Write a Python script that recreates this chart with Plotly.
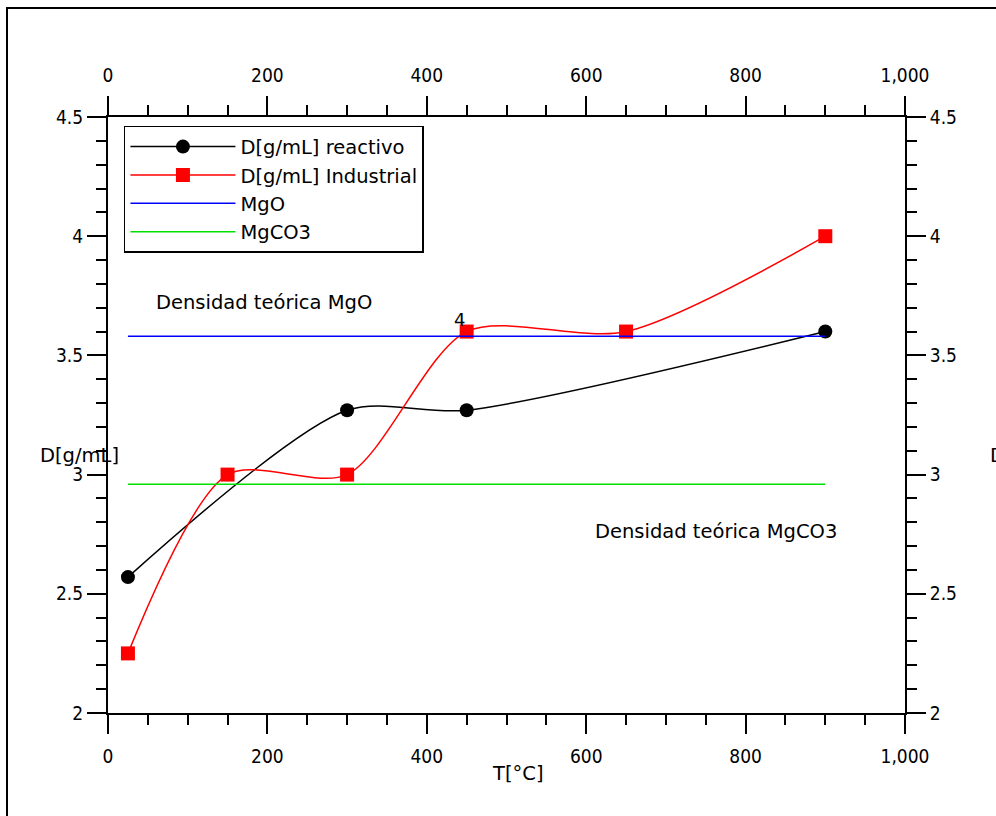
import plotly.graph_objects as go

# Data
t_reactivo = [25, 300, 450, 900]
d_reactivo = [2.57, 3.27, 3.27, 3.60]
t_industrial = [25, 150, 300, 450, 650, 900]
d_industrial = [2.25, 3.00, 3.00, 3.60, 3.60, 4.00]
t_ref = [25, 900]
d_mgo = [3.58, 3.58]
d_mgco3 = [2.96, 2.96]

xticks = [0, 200, 400, 600, 800, 1000]
xticklabels = ["0", "200", "400", "600", "800", "1,000"]
yticks = [2, 2.5, 3, 3.5, 4, 4.5]
yticklabels = ["2", "2.5", "3", "3.5", "4", "4.5"]

tick_font = dict(family="Liberation Sans Narrow, DejaVu Sans Condensed, sans-serif", size=19, color="black")
txt_font = dict(family="DejaVu Sans, Verdana, sans-serif", size=19.5, color="black")

fig = go.Figure()
fig.add_trace(go.Scatter(x=t_reactivo, y=d_reactivo, mode="lines+markers", name="D[g/mL] reactivo",
                         line=dict(color="black", width=1.5, shape="spline", smoothing=0.8),
                         marker=dict(symbol="circle", size=14, color="black")))
fig.add_trace(go.Scatter(x=t_industrial, y=d_industrial, mode="lines+markers", name="D[g/mL] Industrial",
                         line=dict(color="red", width=1.5, shape="spline", smoothing=0.8),
                         marker=dict(symbol="square", size=14, color="red")))
fig.add_trace(go.Scatter(x=t_ref, y=d_mgo, mode="lines", name="MgO", line=dict(color="blue", width=1.5)))
fig.add_trace(go.Scatter(x=t_ref, y=d_mgco3, mode="lines", name="MgCO3", line=dict(color="#00e000", width=1.5)))
# invisible traces for the secondary (top/right) axes
fig.add_trace(go.Scatter(x=t_ref, y=d_mgo, xaxis="x2", yaxis="y2", mode="lines",
                         line=dict(width=0), opacity=0, showlegend=False, hoverinfo="skip"))

common_x = dict(range=[0, 1000], tickvals=xticks, ticktext=xticklabels, showgrid=False, zeroline=False,
                showline=True, linecolor="black", linewidth=2, ticks="outside", ticklen=19, tickwidth=1.5,
                tickcolor="black", tickfont=tick_font, ticklabelstandoff=6,
                minor=dict(ticks="outside", dtick=50, ticklen=10, tickwidth=1.5, tickcolor="black"))
common_y = dict(range=[2, 4.5], tickvals=yticks, ticktext=yticklabels, showgrid=False, zeroline=False,
                showline=True, linecolor="black", linewidth=2, ticks="outside", ticklen=19, tickwidth=1.5,
                tickcolor="black", tickfont=tick_font,
                minor=dict(ticks="outside", dtick=0.1, ticklen=10, tickwidth=1.5, tickcolor="black"))

fig.update_layout(
    width=996, height=816,
    margin=dict(l=108, r=91, t=117, b=103),
    paper_bgcolor="white", plot_bgcolor="white",
    xaxis=dict(**common_x, side="bottom"),
    xaxis2=dict(**common_x, side="top", overlaying="x", anchor="y"),
    yaxis=dict(**common_y, side="left"),
    yaxis2=dict(**common_y, side="right", overlaying="y", anchor="x"),
    showlegend=True,
    legend=dict(x=0.02, y=0.985, xanchor="left", yanchor="top", bgcolor="white",
                bordercolor="black", borderwidth=1.5, font=txt_font, itemwidth=105,
                tracegroupgap=0),
    annotations=[
        dict(text="Densidad teórica MgO", x=58, y=3.72, xref="x", yref="y", showarrow=False,
             xanchor="left", font=txt_font),
        dict(text="Densidad teórica MgCO3", x=608, y=2.76, xref="x", yref="y", showarrow=False,
             xanchor="left", font=txt_font),
        dict(text="4", x=450, y=3.6, xref="x", yref="y", showarrow=False, xanchor="right",
             yanchor="bottom", font=dict(family="DejaVu Sans", size=18, color="black")),
        dict(text="D[g/mL]", x=38, y=455, xref="paper", yref="paper", showarrow=False, xanchor="left",
             font=txt_font),
        dict(text="D[g/mL]", x=988, y=455, xref="paper", yref="paper", showarrow=False, xanchor="left",
             font=txt_font),
        dict(text="T[°C]", x=518, y=787, xref="paper", yref="paper", showarrow=False, xanchor="center",
             font=txt_font),
    ],
    shapes=[dict(type="rect", xref="paper", yref="paper", x0=-0.1, x1=1.2, y0=-0.3, y1=1.2,
                 line=dict(color="black", width=2))],
)

# convert pixel-placed annotations to paper coords
W, H = 996, 816
pl, pr, pt, pb = 108, 91, 117, 103
pw, ph = W - pl - pr, H - pt - pb
def px_to_paper(px, py):
    return (px - pl) / pw, (H - pb - py) / ph
anns = list(fig.layout.annotations)
for a in anns[3:]:
    xp, yp = px_to_paper(a.x, a.y)
    a.x, a.y = xp, yp
fig.layout.annotations = anns
x0, y1 = px_to_paper(7, 8)
x1, y0 = px_to_paper(1010, 830)
fig.layout.shapes[0].update(x0=x0, x1=x1, y0=y0, y1=y1)

fig.write_html("out.html")
